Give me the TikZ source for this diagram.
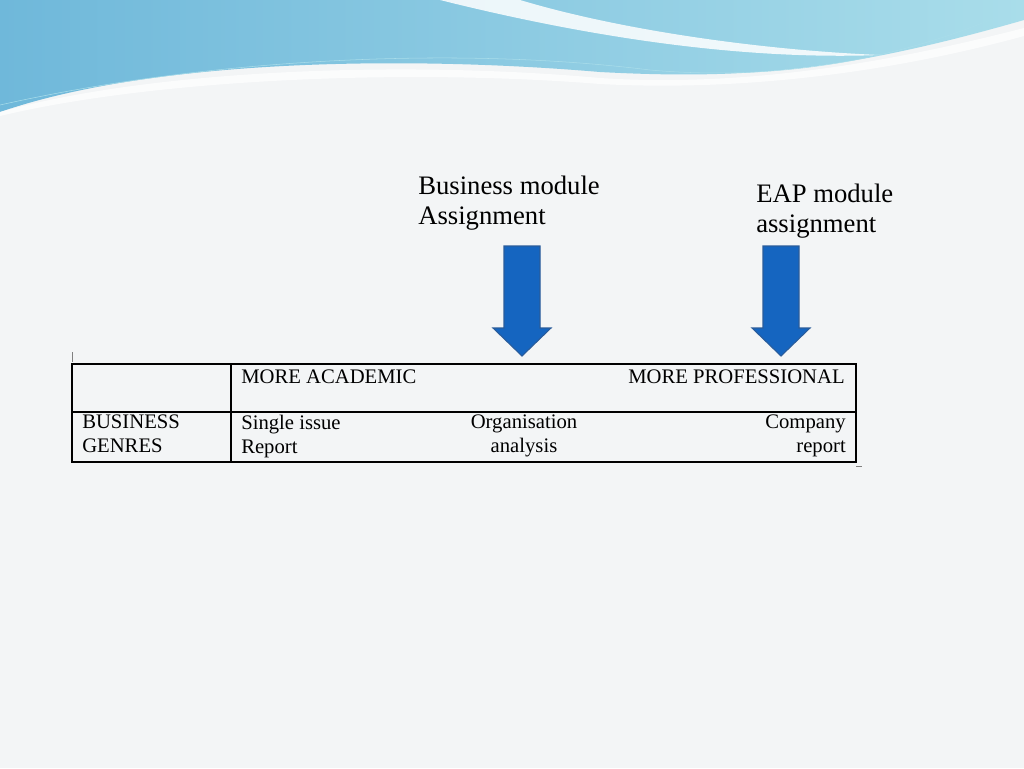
\documentclass[tikz,border=0pt]{standalone}
\usepackage{fontspec}
\setmainfont{Liberation Serif}
\usetikzlibrary{positioning}
\definecolor{bgcol}{HTML}{F3F5F6}
\definecolor{wavedark}{HTML}{6FB8DA}
\definecolor{wavelight}{HTML}{A9DDEA}
\definecolor{arrowblue}{HTML}{1565C0}
\definecolor{arrowedge}{HTML}{2A5C9A}
\tikzset{cell/.style={inner sep=0pt,font=\fontsize{15.5}{18}\selectfont,align=left},
         label text/.style={inner sep=0pt,font=\fontsize{20}{22.5}\selectfont,align=left,anchor=north west},
         block arrow/.style={fill=arrowblue,draw=arrowedge,line width=0.8pt}}
\begin{document}
\begin{tikzpicture}[x=0.75pt,y=-0.75pt]
        \fill[bgcol](0,0)rectangle(1024,768);
        \useasboundingbox(0,0)rectangle(1024,768);

        % top wave
        \shade[left color=wavedark,right color=wavelight](0,0)--(1024,0)--(1024,20)
            .. controls (850,70) and (750,80) .. (600,72)
            .. controls (400,55) and (150,60) .. (0,112)--cycle;
        \fill[white,opacity=0.85](440,0) .. controls (600,40) and (750,60) .. (880,55)
            .. controls (760,50) and (620,30) .. (520,0)--cycle;
        \fill[white,opacity=0.7](0,112) .. controls (150,70) and (400,60) .. (600,78)
            .. controls (750,88) and (900,60) .. (1024,28)--(1024,36)
            .. controls (900,70) and (750,92) .. (600,84)
            .. controls (400,68) and (150,80) .. (0,116)--cycle;
        \draw[wavelight,thin](0,105) .. controls (200,60) and (450,45) .. (650,70)
            .. controls (820,85) and (950,40) .. (1024,5);

        % labels
        \node[label text](business)at(418,176){Business module\\Assignment};
        \node[label text](eap)at(756,184){EAP module\\assignment};

        % arrows
        \foreach \name/\cx in {barrow/522,earrow/781}{
            \draw[block arrow](\cx-18,246)--(\cx+18,246)--(\cx+18,328)--(\cx+29,328)
                --(\cx,356)--(\cx-29,328)--(\cx-18,328)--cycle;
            \coordinate(\name)at(\cx,356);
        }

        % table
        \draw[line width=0.9pt](72,364)rectangle(856,462);
        \draw[line width=0.9pt](72,412)--(856,412);
        \draw[line width=0.9pt](231,364)--(231,462);
        \draw[gray,thin](72,352)--(72,362);
        \draw[gray,thin](856,466)--(862,466);

        \node[cell,anchor=west](academic)at(241,377){MORE ACADEMIC};
        \node[cell,anchor=east](professional)at(845,377){MORE PROFESSIONAL};
        \node[cell,anchor=north west](genres)at(82,415){BUSINESS\\GENRES};
        \node[cell,anchor=north west](single)at(241,415){Single issue\\Report};
        \node[cell,anchor=north,align=center](organisation)at(524,415){Organisation\\analysis};
        \node[cell,anchor=north east,align=right](company)at(846,415){Company\\report};
    \end{tikzpicture}
\end{document}
